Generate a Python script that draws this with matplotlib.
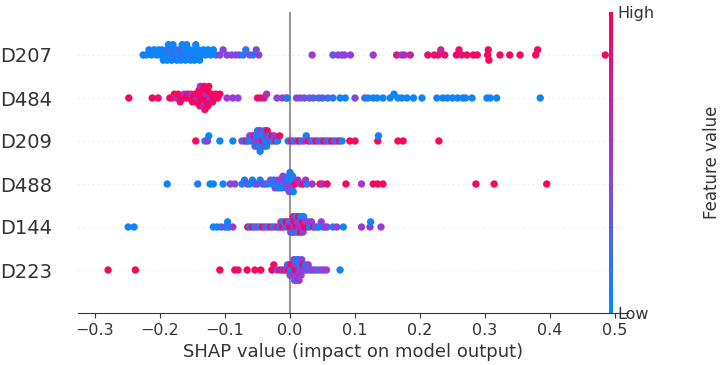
import numpy as np
import matplotlib
matplotlib.use("Agg")
import matplotlib.pyplot as plt
from matplotlib.colors import LinearSegmentedColormap

# feature names, top to bottom
features = ["D207", "D484", "D209", "D488", "D144", "D223"]

# SHAP values per feature and matching feature values (0 = low, 1 = high)
d207_shap = [-0.226, -0.221, -0.217, -0.213, -0.209, -0.205, -0.202, -0.199, -0.197, -0.195,
             -0.193, -0.190, -0.189, -0.187, -0.185, -0.183, -0.182, -0.180, -0.178, -0.176,
             -0.174, -0.172, -0.170, -0.168, -0.166, -0.164, -0.163, -0.161, -0.159, -0.157,
             -0.155, -0.153, -0.151, -0.149, -0.147, -0.145, -0.143, -0.141, -0.139, -0.136,
             -0.133, -0.130, -0.126, -0.122, -0.118, -0.114,
             -0.108, -0.103, -0.097, -0.090, -0.084, -0.078, -0.072, -0.068, -0.062, -0.057,
             -0.052, -0.048, 0.034,
             0.066, 0.074, 0.080, 0.084, 0.093, 0.128, 0.164, 0.172, 0.176, 0.185,
             0.212, 0.222, 0.228, 0.232, 0.238, 0.256, 0.260, 0.264, 0.272, 0.282,
             0.288, 0.304, 0.305, 0.306, 0.323, 0.338, 0.354, 0.378, 0.381, 0.485]
d207_feat = [0.05, 0.05, 0.05, 0.05, 0.05, 0.05, 0.05, 0.05, 0.05, 0.05,
             0.05, 0.15, 0.05, 0.05, 0.05, 0.15, 0.05, 0.05, 0.20, 0.05,
             0.05, 0.05, 0.20, 0.05, 0.05, 0.15, 0.05, 0.05, 0.05, 0.05,
             0.05, 0.05, 0.15, 0.05, 0.05, 0.05, 0.05, 0.05, 0.05, 0.05,
             0.05, 0.05, 0.05, 0.05, 0.05, 0.05,
             0.45, 0.40, 0.45, 0.40, 0.45, 0.40, 0.10, 0.15, 0.45, 0.10,
             0.40, 0.45, 0.50,
             0.35, 0.45, 0.50, 0.45, 0.50, 0.50, 0.80, 0.45, 0.60, 0.70,
             0.90, 0.85, 0.90, 0.70, 0.90, 0.95, 0.90, 0.85, 0.90, 0.95,
             0.90, 0.95, 0.95, 0.95, 0.95, 0.95, 0.95, 0.95, 0.95, 0.95]

d484_shap = [-0.248, -0.212, -0.203, -0.185, -0.181, -0.178, -0.175, -0.172, -0.169, -0.166,
             -0.163, -0.160, -0.157, -0.155, -0.152, -0.150, -0.148, -0.146, -0.145, -0.143,
             -0.142, -0.141, -0.140, -0.139, -0.138, -0.137, -0.136, -0.135, -0.134, -0.133,
             -0.132, -0.131, -0.130, -0.129, -0.128, -0.127, -0.126, -0.125, -0.123, -0.121,
             -0.119, -0.117, -0.114, -0.111, -0.108, -0.097, -0.088, -0.080, -0.050, -0.045,
             -0.040, -0.036, -0.020, -0.012, -0.006, -0.004, 0.010, 0.016, 0.022, 0.030,
             0.036, 0.044, 0.050, 0.058, 0.066, 0.077, 0.085, 0.100, 0.115, 0.120,
             0.128, 0.134, 0.143, 0.154, 0.160, 0.166, 0.172, 0.180, 0.190, 0.203,
             0.226, 0.235, 0.242, 0.250, 0.258, 0.266, 0.270, 0.280, 0.303, 0.308,
             0.318, 0.385]
d484_feat = [0.95, 0.95, 0.90, 0.95, 0.90, 0.95, 0.60, 0.95, 0.90, 0.95,
             0.60, 0.95, 0.90, 0.95, 0.60, 0.95, 0.90, 0.95, 0.95, 0.60,
             0.95, 0.90, 0.95, 0.95, 0.60, 0.95, 0.90, 0.95, 0.95, 0.55,
             0.95, 0.90, 0.95, 0.60, 0.95, 0.95, 0.90, 0.95, 0.60, 0.95,
             0.90, 0.95, 0.95, 0.90, 0.95, 0.50, 0.50, 0.45, 0.90, 0.85,
             0.80, 0.60, 0.45, 0.50, 0.45, 0.10, 0.45, 0.40, 0.35, 0.30,
             0.30, 0.20, 0.25, 0.20, 0.15, 0.05, 0.05, 0.40, 0.20, 0.05,
             0.10, 0.05, 0.05, 0.05, 0.05, 0.05, 0.05, 0.05, 0.05, 0.05,
             0.05, 0.05, 0.05, 0.05, 0.05, 0.05, 0.05, 0.05, 0.05, 0.05,
             0.05, 0.05]

d209_shap = [-0.145, -0.131, -0.127, -0.125, -0.108, -0.088, -0.074, -0.070, -0.067, -0.064,
             -0.062, -0.060, -0.058, -0.056, -0.055, -0.054, -0.053, -0.052, -0.051, -0.050,
             -0.049, -0.048, -0.047, -0.046, -0.046, -0.045, -0.044, -0.043, -0.042, -0.041,
             -0.040, -0.039, -0.038, -0.037, -0.036, -0.035, -0.034, -0.032, -0.030, -0.028,
             -0.026, -0.024, -0.022, -0.019, -0.016, -0.003, 0.002, 0.006, 0.010, 0.014,
             0.018, 0.022, 0.025, 0.028, 0.032, 0.036, 0.040, 0.044, 0.048, 0.052,
             0.056, 0.060, 0.064, 0.068, 0.072, 0.076, 0.080, 0.092, 0.100, 0.135,
             0.136, 0.166, 0.174, 0.229]
d209_feat = [0.95, 0.10, 0.50, 0.05, 0.05, 0.05, 0.50, 0.05, 0.90, 0.10,
             0.50, 0.05, 0.45, 0.05, 0.90, 0.10, 0.50, 0.05, 0.45, 0.05,
             0.50, 0.10, 0.05, 0.45, 0.05, 0.50, 0.10, 0.05, 0.90, 0.05,
             0.45, 0.10, 0.05, 0.50, 0.05, 0.90, 0.10, 0.05, 0.45, 0.90,
             0.05, 0.50, 0.90, 0.05, 0.90, 0.10, 0.90, 0.05, 0.50, 0.95,
             0.05, 0.50, 0.05, 0.90, 0.45, 0.05, 0.90, 0.50, 0.05, 0.90,
             0.45, 0.05, 0.90, 0.50, 0.05, 0.90, 0.05, 0.95, 0.95, 0.95,
             0.05, 0.95, 0.95, 0.95]

d488_shap = [-0.189, -0.142, -0.123, -0.118, -0.103, -0.092, -0.085, -0.074, -0.070, -0.066,
             -0.062, -0.058, -0.054, -0.050, -0.046, -0.042, -0.038, -0.034, -0.030, -0.027,
             -0.025, -0.023, -0.021, -0.019, -0.018, -0.016, -0.014, -0.013, -0.011, -0.010,
             -0.008, -0.007, -0.005, -0.004, -0.003, -0.002, -0.001, 0.000, 0.001, 0.002,
             0.003, 0.004, 0.005, 0.008, 0.012, 0.016, 0.020, 0.024, 0.026, 0.034,
             0.046, 0.050, 0.057, 0.086, 0.110, 0.128, 0.135, 0.143, 0.286, 0.314,
             0.395]
d488_feat = [0.05, 0.10, 0.05, 0.05, 0.05, 0.45, 0.45, 0.05, 0.10, 0.45,
             0.05, 0.10, 0.05, 0.45, 0.05, 0.10, 0.50, 0.05, 0.45, 0.05,
             0.10, 0.50, 0.05, 0.45, 0.05, 0.10, 0.50, 0.05, 0.45, 0.10,
             0.50, 0.05, 0.45, 0.10, 0.50, 0.05, 0.45, 0.10, 0.50, 0.05,
             0.45, 0.10, 0.05, 0.90, 0.60, 0.50, 0.90, 0.55, 0.10, 0.55,
             0.90, 0.60, 0.90, 0.95, 0.55, 0.95, 0.95, 0.95, 0.95, 0.95,
             0.95]

d144_shap = [-0.249, -0.240, -0.118, -0.112, -0.106, -0.100, -0.096, -0.096, -0.094, -0.088,
             -0.065, -0.062, -0.058, -0.054, -0.050, -0.046, -0.042, -0.038, -0.034, -0.030,
             -0.026, -0.022, -0.018, -0.016, -0.014, -0.012, -0.010, -0.008, -0.006, -0.004,
             -0.002, -0.001, 0.000, 0.001, 0.002, 0.003, 0.004, 0.005, 0.006, 0.007,
             0.008, 0.009, 0.010, 0.011, 0.012, 0.013, 0.014, 0.015, 0.016, 0.017,
             0.018, 0.019, 0.020, 0.021, 0.022, 0.024, 0.026, 0.028, 0.030, 0.033,
             0.036, 0.039, 0.042, 0.045, 0.048, 0.051, 0.054, 0.057, 0.066, 0.072,
             0.082, 0.110, 0.123, 0.124, 0.140]
d144_feat = [0.05, 0.05, 0.05, 0.05, 0.10, 0.50, 0.05, 0.05, 0.05, 0.50,
             0.95, 0.05, 0.95, 0.05, 0.50, 0.05, 0.95, 0.50, 0.05, 0.95,
             0.05, 0.50, 0.95, 0.05, 0.50, 0.95, 0.05, 0.50, 0.95, 0.05,
             0.50, 0.95, 0.05, 0.50, 0.95, 0.45, 0.05, 0.90, 0.50, 0.95,
             0.45, 0.05, 0.90, 0.50, 0.05, 0.95, 0.55, 0.45, 0.95, 0.05,
             0.50, 0.90, 0.45, 0.05, 0.95, 0.50, 0.95, 0.45, 0.05, 0.50,
             0.95, 0.05, 0.50, 0.05, 0.45, 0.05, 0.50, 0.45, 0.10, 0.50,
             0.05, 0.50, 0.50, 0.05, 0.50]

d223_shap = [-0.280, -0.238, -0.108, -0.085, -0.080, -0.066, -0.054, -0.045, -0.028, -0.025,
             -0.020, -0.015, -0.011, -0.008, -0.006, -0.004, -0.002, -0.001, 0.000, 0.001,
             0.002, 0.003, 0.004, 0.005, 0.005, 0.006, 0.007, 0.008, 0.008, 0.009,
             0.010, 0.010, 0.011, 0.012, 0.012, 0.013, 0.014, 0.015, 0.016, 0.017,
             0.018, 0.019, 0.020, 0.022, 0.024, 0.026, 0.028, 0.030, 0.033, 0.036,
             0.040, 0.044, 0.048, 0.052, 0.056, 0.077]
d223_feat = [0.95, 0.95, 0.95, 0.95, 0.90, 0.95, 0.95, 0.95, 0.95, 0.90,
             0.50, 0.90, 0.50, 0.90, 0.50, 0.05, 0.95, 0.50, 0.45, 0.05,
             0.90, 0.45, 0.05, 0.90, 0.50, 0.50, 0.10, 0.95, 0.45, 0.50,
             0.05, 0.50, 0.90, 0.45, 0.50, 0.10, 0.50, 0.45, 0.05, 0.50,
             0.50, 0.45, 0.90, 0.45, 0.10, 0.50, 0.45, 0.05, 0.50, 0.45,
             0.50, 0.10, 0.50, 0.45, 0.50, 0.05]

shap_rows = [d207_shap, d484_shap, d209_shap, d488_shap, d144_shap, d223_shap]
feat_rows = [d207_feat, d484_feat, d209_feat, d488_feat, d144_feat, d223_feat]

red_blue = LinearSegmentedColormap.from_list("red_blue", ["#008bfb", "#9b3bd6", "#ff0052"])


def swarm_offsets(vals, row_height=0.4, nbins=100):
    # same stacking idea as the shap beeswarm
    vals = np.asarray(vals)
    quant = np.round(nbins * (vals - vals.min()) / (vals.max() - vals.min() + 1e-8))
    inds = np.argsort(quant, kind="stable")
    ys = np.zeros(len(vals))
    layer = 0
    last_bin = -1
    for i in inds:
        if quant[i] != last_bin:
            layer = 0
        ys[i] = np.ceil(layer / 2) * ((layer % 2) * 2 - 1)
        layer += 1
        last_bin = quant[i]
    ys *= 0.9 * (row_height / np.max(ys + 1))
    return ys


fig = plt.figure(figsize=(7.26, 3.65), dpi=100)
ax = fig.add_axes([77.5 / 726, 52 / 365, 550.5 / 726, 301 / 365])

n = len(features)
for k, (sv, fv) in enumerate(zip(shap_rows, feat_rows)):
    pos = n - 1 - k
    ax.axhline(pos, color="#cccccc", lw=0.6, dashes=(1, 5), zorder=-1)
    ys = swarm_offsets(sv)
    ax.scatter(sv, pos + ys, c=fv, cmap=red_blue, vmin=0, vmax=1, s=28,
               linewidths=0, zorder=3)

ax.axvline(0, color="#999999", lw=1.5, zorder=-1)

ax.set_xlim(-0.327, 0.52)
ax.set_ylim(-1, n)
ax.set_yticks(range(n))
ax.set_yticklabels(features[::-1], fontsize=14)
ax.set_xticks([-0.3, -0.2, -0.1, 0.0, 0.1, 0.2, 0.3, 0.4, 0.5])
ax.set_xticklabels(["\u22120.3", "\u22120.2", "\u22120.1", "0.0", "0.1", "0.2", "0.3", "0.4", "0.5"])
ax.tick_params(axis="x", labelsize=11.5, colors="#333333", labelcolor="#333333")
ax.tick_params(axis="y", length=0, pad=18, labelcolor="#333333")
for side in ["top", "right", "left"]:
    ax.spines[side].set_visible(False)
ax.spines["bottom"].set_color("#333333")
ax.set_xlabel("SHAP value (impact on model output)", fontsize=13, color="#333333")

# colour bar
cax = fig.add_axes([609 / 726, 52 / 365, 4 / 726, 301 / 365])
sm = plt.cm.ScalarMappable(cmap=red_blue, norm=plt.Normalize(0, 1))
cb = fig.colorbar(sm, cax=cax, ticks=[0, 1])
cb.set_ticklabels(["Low", "High"])
cb.outline.set_visible(False)
cax.tick_params(labelsize=11.5, length=0, labelcolor="#333333")
fig.text(712 / 726, 1 - 162 / 365, "Feature value", rotation=90, fontsize=12,
         ha="center", va="center", color="#333333")

fig.savefig("out.png", dpi=100)
